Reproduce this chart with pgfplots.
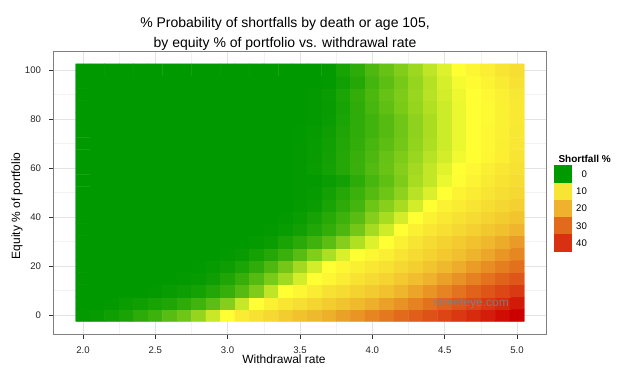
\documentclass[border=0pt]{standalone}
\usepackage{pgfplots}
\pgfplotsset{compat=1.18}
\usepackage{fontspec}
\setmainfont{Liberation Sans}
\definecolor{gmaj}{HTML}{E3E3E3}
\definecolor{gmin}{HTML}{F2F2F2}
\definecolor{bordercol}{HTML}{7F7F7F}
\definecolor{kA}{HTML}{009900}
\definecolor{kB}{HTML}{F8E533}
\definecolor{kC}{HTML}{EEB22C}
\definecolor{kD}{HTML}{E26A1C}
\definecolor{kE}{HTML}{D83010}
\begin{document}
\begin{tikzpicture}[x=1pt,y=1pt]
\path[use as bounding box] (0,0) rectangle (630,378);
\begin{axis}[
  at={(53.3pt,43.7pt)}, anchor=south west,
  width=493.4pt, height=283.3pt, scale only axis,
  xmin=1.795, xmax=5.205, ymin=-7.75, ymax=107.75,
  enlargelimits=false,
  xtick={2,2.5,3,3.5,4,4.5,5},
  minor xtick={2.25,2.75,3.25,3.75,4.25,4.75},
  ytick={0,20,40,60,80,100},
  minor ytick={10,30,50,70,90},
  grid=both,
  major grid style={color=gmaj, line width=0.7pt},
  minor grid style={color=gmin, line width=0.6pt},
  tick align=outside,
  major tick length=4.3pt, minor tick length=0pt,
  major tick style={color=black!80, line width=0.6pt},
  axis line style={color=bordercol, line width=0.8pt},
  xtick pos=bottom, ytick pos=left,
  /pgf/number format/assume math mode=true,
  x tick label style={/pgf/number format/.cd, fixed, fixed zerofill, precision=1, /tikz/.cd,
     font=\fontsize{9.6}{11}\selectfont, text=black!85, yshift=-4.5pt},
  y tick label style={font=\fontsize{9.6}{11}\selectfont, text=black!85, xshift=-4.5pt},
  scaled x ticks=false,
  colormap={ssf}{rgb255(0pt)=(0,153,0); rgb255(15pt)=(255,255,51); rgb255(20pt)=(248,229,51); rgb255(40pt)=(238,178,44); rgb255(60pt)=(226,106,28); rgb255(80pt)=(216,48,16); rgb255(95pt)=(204,0,0)},
  point meta min=0, point meta max=47.5,
  legend image code/.code={\fill[#1] (0pt,-8.65pt) rectangle (18pt,8.65pt);},
  legend style={at={(axis description cs:1,1)}, anchor=north west, xshift=7.3pt, yshift=-114pt,
     draw=none, fill=none, inner sep=0pt, row sep=0pt, column sep=4pt,
     font=\fontsize{9.6}{11}\selectfont, nodes={inner sep=0pt, text depth=0pt}},
  legend cell align=right,
]
\addplot[matrix plot*, mesh/cols=31, point meta=explicit, forget plot]
table[row sep=\\, meta=z] {
x y z\\
2.0 0 0.05\\ 2.1 0 0.15\\ 2.2 0 0.45\\ 2.3 0 0.75\\ 2.4 0 1.3\\ 2.5 0 1.8\\ 2.6 0 2.6\\ 2.7 0 3.3\\ 2.8 0 4.4\\ 2.9 0 5.9\\ 3.0 0 7.5\\ 3.1 0 9.3\\ 3.2 0 10.8\\ 3.3 0 12.6\\ 3.4 0 14.8\\ 3.5 0 16.8\\ 3.6 0 18.6\\ 3.7 0 20.4\\ 3.8 0 22.3\\ 3.9 0 24.2\\ 4.0 0 26.2\\ 4.1 0 28.0\\ 4.2 0 30.0\\ 4.3 0 32.0\\ 4.4 0 34.2\\ 4.5 0 36.4\\ 4.6 0 38.6\\ 4.7 0 40.8\\ 4.8 0 43.2\\ 4.9 0 45.4\\ 5.0 0 47.5\\
2.0 5 0\\ 2.1 5 0.03\\ 2.2 5 0.1\\ 2.3 5 0.3\\ 2.4 5 0.45\\ 2.5 5 0.7\\ 2.6 5 0.9\\ 2.7 5 1.35\\ 2.8 5 1.9\\ 2.9 5 2.7\\ 3.0 5 3.9\\ 3.1 5 5.8\\ 3.2 5 7.5\\ 3.3 5 8.8\\ 3.4 5 9.9\\ 3.5 5 11.3\\ 3.6 5 13.0\\ 3.7 5 14.8\\ 3.8 5 16.6\\ 3.9 5 18.4\\ 4.0 5 20.3\\ 4.1 5 22.3\\ 4.2 5 24.4\\ 4.3 5 26.6\\ 4.4 5 28.9\\ 4.5 5 31.2\\ 4.6 5 33.6\\ 4.7 5 36.0\\ 4.8 5 38.5\\ 4.9 5 41.0\\ 5.0 5 43.5\\
2.0 10 0\\ 2.1 10 0\\ 2.2 10 0\\ 2.3 10 0\\ 2.4 10 0.03\\ 2.5 10 0.1\\ 2.6 10 0.2\\ 2.7 10 0.35\\ 2.8 10 0.6\\ 2.9 10 1.0\\ 3.0 10 1.6\\ 3.1 10 2.5\\ 3.2 10 3.7\\ 3.3 10 5.6\\ 3.4 10 7.5\\ 3.5 10 8.4\\ 3.6 10 9.4\\ 3.7 10 10.6\\ 3.8 10 12.0\\ 3.9 10 13.5\\ 4.0 10 15.2\\ 4.1 10 16.9\\ 4.2 10 19.3\\ 4.3 10 21.8\\ 4.4 10 24.2\\ 4.5 10 26.5\\ 4.6 10 28.8\\ 4.7 10 31.2\\ 4.8 10 33.6\\ 4.9 10 36.0\\ 5.0 10 38.3\\
2.0 15 0\\ 2.1 15 0\\ 2.2 15 0\\ 2.3 15 0\\ 2.4 15 0\\ 2.5 15 0\\ 2.6 15 0\\ 2.7 15 0.05\\ 2.8 15 0.15\\ 2.9 15 0.4\\ 3.0 15 0.9\\ 3.1 15 1.6\\ 3.2 15 2.5\\ 3.3 15 3.6\\ 3.4 15 4.8\\ 3.5 15 6.2\\ 3.6 15 7.5\\ 3.7 15 8.3\\ 3.8 15 9.2\\ 3.9 15 10.4\\ 4.0 15 11.8\\ 4.1 15 13.3\\ 4.2 15 15.4\\ 4.3 15 17.6\\ 4.4 15 20.0\\ 4.5 15 22.3\\ 4.6 15 24.6\\ 4.7 15 26.8\\ 4.8 15 29.0\\ 4.9 15 31.3\\ 5.0 15 33.5\\
2.0 20 0\\ 2.1 20 0\\ 2.2 20 0\\ 2.3 20 0\\ 2.4 20 0\\ 2.5 20 0\\ 2.6 20 0\\ 2.7 20 0\\ 2.8 20 0.04\\ 2.9 20 0.15\\ 3.0 20 0.4\\ 3.1 20 0.8\\ 3.2 20 1.4\\ 3.3 20 2.3\\ 3.4 20 3.4\\ 3.5 20 4.8\\ 3.6 20 6.2\\ 3.7 20 7.5\\ 3.8 20 8.3\\ 3.9 20 9.0\\ 4.0 20 9.8\\ 4.1 20 10.8\\ 4.2 20 12.5\\ 4.3 20 14.4\\ 4.4 20 16.4\\ 4.5 20 18.6\\ 4.6 20 20.9\\ 4.7 20 23.1\\ 4.8 20 25.2\\ 4.9 20 27.2\\ 5.0 20 29.2\\
2.0 25 0\\ 2.1 25 0\\ 2.2 25 0\\ 2.3 25 0\\ 2.4 25 0\\ 2.5 25 0\\ 2.6 25 0\\ 2.7 25 0\\ 2.8 25 0\\ 2.9 25 0.02\\ 3.0 25 0.08\\ 3.1 25 0.25\\ 3.2 25 0.6\\ 3.3 25 1.1\\ 3.4 25 1.7\\ 3.5 25 2.6\\ 3.6 25 3.8\\ 3.7 25 5.1\\ 3.8 25 6.4\\ 3.9 25 7.5\\ 4.0 25 8.3\\ 4.1 25 9.0\\ 4.2 25 10.1\\ 4.3 25 11.7\\ 4.4 25 13.5\\ 4.5 25 15.4\\ 4.6 25 17.3\\ 4.7 25 19.5\\ 4.8 25 21.7\\ 4.9 25 23.9\\ 5.0 25 26.0\\
2.0 30 0\\ 2.1 30 0\\ 2.2 30 0\\ 2.3 30 0\\ 2.4 30 0\\ 2.5 30 0\\ 2.6 30 0\\ 2.7 30 0\\ 2.8 30 0\\ 2.9 30 0\\ 3.0 30 0\\ 3.1 30 0.03\\ 3.2 30 0.12\\ 3.3 30 0.3\\ 3.4 30 0.75\\ 3.5 30 1.25\\ 3.6 30 1.85\\ 3.7 30 2.7\\ 3.8 30 3.9\\ 3.9 30 5.2\\ 4.0 30 6.5\\ 4.1 30 7.5\\ 4.2 30 8.8\\ 4.3 30 10.2\\ 4.4 30 11.9\\ 4.5 30 13.5\\ 4.6 30 15.2\\ 4.7 30 17.0\\ 4.8 30 18.9\\ 4.9 30 21.0\\ 5.0 30 23.3\\
2.0 35 0\\ 2.1 35 0\\ 2.2 35 0\\ 2.3 35 0\\ 2.4 35 0\\ 2.5 35 0\\ 2.6 35 0\\ 2.7 35 0\\ 2.8 35 0\\ 2.9 35 0\\ 3.0 35 0\\ 3.1 35 0\\ 3.2 35 0.02\\ 3.3 35 0.05\\ 3.4 35 0.2\\ 3.5 35 0.5\\ 3.6 35 0.95\\ 3.7 35 1.5\\ 3.8 35 2.2\\ 3.9 35 3.4\\ 4.0 35 4.85\\ 4.1 35 6.1\\ 4.2 35 7.5\\ 4.3 35 8.8\\ 4.4 35 9.8\\ 4.5 35 11.0\\ 4.6 35 12.5\\ 4.7 35 14.1\\ 4.8 35 15.6\\ 4.9 35 17.3\\ 5.0 35 19.2\\
2.0 40 0\\ 2.1 40 0\\ 2.2 40 0\\ 2.3 40 0\\ 2.4 40 0\\ 2.5 40 0\\ 2.6 40 0\\ 2.7 40 0\\ 2.8 40 0\\ 2.9 40 0\\ 3.0 40 0\\ 3.1 40 0\\ 3.2 40 0\\ 3.3 40 0.03\\ 3.4 40 0.1\\ 3.5 40 0.3\\ 3.6 40 0.65\\ 3.7 40 1.2\\ 3.8 40 1.8\\ 3.9 40 2.6\\ 4.0 40 3.9\\ 4.1 40 4.9\\ 4.2 40 6.2\\ 4.3 40 7.5\\ 4.4 40 8.75\\ 4.5 40 9.6\\ 4.6 40 10.7\\ 4.7 40 12.0\\ 4.8 40 13.3\\ 4.9 40 14.7\\ 5.0 40 16.3\\
2.0 45 0\\ 2.1 45 0\\ 2.2 45 0\\ 2.3 45 0\\ 2.4 45 0\\ 2.5 45 0\\ 2.6 45 0\\ 2.7 45 0\\ 2.8 45 0\\ 2.9 45 0\\ 3.0 45 0\\ 3.1 45 0\\ 3.2 45 0\\ 3.3 45 0\\ 3.4 45 0.03\\ 3.5 45 0.12\\ 3.6 45 0.3\\ 3.7 45 0.75\\ 3.8 45 1.35\\ 3.9 45 2.0\\ 4.0 45 3.2\\ 4.1 45 4.0\\ 4.2 45 4.9\\ 4.3 45 6.2\\ 4.4 45 7.5\\ 4.5 45 8.75\\ 4.6 45 9.4\\ 4.7 45 10.2\\ 4.8 45 11.5\\ 4.9 45 12.7\\ 5.0 45 14.1\\
2.0 50 0\\ 2.1 50 0\\ 2.2 50 0\\ 2.3 50 0\\ 2.4 50 0\\ 2.5 50 0\\ 2.6 50 0\\ 2.7 50 0\\ 2.8 50 0\\ 2.9 50 0\\ 3.0 50 0\\ 3.1 50 0\\ 3.2 50 0\\ 3.3 50 0\\ 3.4 50 0.03\\ 3.5 50 0.1\\ 3.6 50 0.17\\ 3.7 50 0.55\\ 3.8 50 1.1\\ 3.9 50 1.75\\ 4.0 50 2.5\\ 4.1 50 3.2\\ 4.2 50 4.2\\ 4.3 50 5.4\\ 4.4 50 6.4\\ 4.5 50 7.5\\ 4.6 50 8.65\\ 4.7 50 9.3\\ 4.8 50 10.2\\ 4.9 50 11.3\\ 5.0 50 12.5\\
2.0 55 0\\ 2.1 55 0\\ 2.2 55 0\\ 2.3 55 0\\ 2.4 55 0\\ 2.5 55 0\\ 2.6 55 0\\ 2.7 55 0\\ 2.8 55 0\\ 2.9 55 0\\ 3.0 55 0\\ 3.1 55 0\\ 3.2 55 0\\ 3.3 55 0\\ 3.4 55 0.02\\ 3.5 55 0.05\\ 3.6 55 0.1\\ 3.7 55 0.3\\ 3.8 55 0.55\\ 3.9 55 1.3\\ 4.0 55 2.1\\ 4.1 55 2.8\\ 4.2 55 3.7\\ 4.3 55 4.9\\ 4.4 55 5.7\\ 4.5 55 6.9\\ 4.6 55 7.8\\ 4.7 55 8.6\\ 4.8 55 9.5\\ 4.9 55 10.4\\ 5.0 55 11.6\\
2.0 60 0\\ 2.1 60 0\\ 2.2 60 0\\ 2.3 60 0\\ 2.4 60 0\\ 2.5 60 0\\ 2.6 60 0\\ 2.7 60 0\\ 2.8 60 0\\ 2.9 60 0\\ 3.0 60 0\\ 3.1 60 0\\ 3.2 60 0\\ 3.3 60 0\\ 3.4 60 0.03\\ 3.5 60 0.1\\ 3.6 60 0.3\\ 3.7 60 0.6\\ 3.8 60 1.1\\ 3.9 60 1.7\\ 4.0 60 2.4\\ 4.1 60 3.1\\ 4.2 60 3.9\\ 4.3 60 4.8\\ 4.4 60 5.7\\ 4.5 60 6.6\\ 4.6 60 7.5\\ 4.7 60 8.2\\ 4.8 60 9.0\\ 4.9 60 9.8\\ 5.0 60 10.8\\
2.0 65 0\\ 2.1 65 0\\ 2.2 65 0\\ 2.3 65 0\\ 2.4 65 0\\ 2.5 65 0\\ 2.6 65 0\\ 2.7 65 0\\ 2.8 65 0\\ 2.9 65 0\\ 3.0 65 0\\ 3.1 65 0\\ 3.2 65 0\\ 3.3 65 0\\ 3.4 65 0.02\\ 3.5 65 0.08\\ 3.6 65 0.25\\ 3.7 65 0.55\\ 3.8 65 1.05\\ 3.9 65 1.65\\ 4.0 65 2.3\\ 4.1 65 3.0\\ 4.2 65 3.7\\ 4.3 65 4.5\\ 4.4 65 5.4\\ 4.5 65 6.2\\ 4.6 65 7.1\\ 4.7 65 7.6\\ 4.8 65 8.3\\ 4.9 65 9.1\\ 5.0 65 10.0\\
2.0 70 0\\ 2.1 70 0\\ 2.2 70 0\\ 2.3 70 0\\ 2.4 70 0\\ 2.5 70 0\\ 2.6 70 0\\ 2.7 70 0\\ 2.8 70 0\\ 2.9 70 0\\ 3.0 70 0\\ 3.1 70 0\\ 3.2 70 0\\ 3.3 70 0\\ 3.4 70 0\\ 3.5 70 0.05\\ 3.6 70 0.2\\ 3.7 70 0.5\\ 3.8 70 1.0\\ 3.9 70 1.5\\ 4.0 70 2.1\\ 4.1 70 2.7\\ 4.2 70 3.4\\ 4.3 70 4.3\\ 4.4 70 5.1\\ 4.5 70 6.0\\ 4.6 70 6.9\\ 4.7 70 7.5\\ 4.8 70 8.2\\ 4.9 70 9.0\\ 5.0 70 9.8\\
2.0 75 0\\ 2.1 75 0\\ 2.2 75 0\\ 2.3 75 0\\ 2.4 75 0\\ 2.5 75 0\\ 2.6 75 0\\ 2.7 75 0\\ 2.8 75 0\\ 2.9 75 0\\ 3.0 75 0\\ 3.1 75 0\\ 3.2 75 0\\ 3.3 75 0\\ 3.4 75 0\\ 3.5 75 0.04\\ 3.6 75 0.15\\ 3.7 75 0.4\\ 3.8 75 0.9\\ 3.9 75 1.4\\ 4.0 75 1.9\\ 4.1 75 2.5\\ 4.2 75 3.3\\ 4.3 75 4.2\\ 4.4 75 5.0\\ 4.5 75 6.0\\ 4.6 75 6.9\\ 4.7 75 7.5\\ 4.8 75 8.2\\ 4.9 75 8.9\\ 5.0 75 9.7\\
2.0 80 0\\ 2.1 80 0\\ 2.2 80 0\\ 2.3 80 0\\ 2.4 80 0\\ 2.5 80 0\\ 2.6 80 0\\ 2.7 80 0\\ 2.8 80 0\\ 2.9 80 0\\ 3.0 80 0\\ 3.1 80 0\\ 3.2 80 0\\ 3.3 80 0\\ 3.4 80 0\\ 3.5 80 0.02\\ 3.6 80 0.1\\ 3.7 80 0.3\\ 3.8 80 0.8\\ 3.9 80 1.4\\ 4.0 80 1.9\\ 4.1 80 2.5\\ 4.2 80 3.3\\ 4.3 80 4.2\\ 4.4 80 5.0\\ 4.5 80 6.0\\ 4.6 80 6.9\\ 4.7 80 7.5\\ 4.8 80 8.1\\ 4.9 80 8.8\\ 5.0 80 9.6\\
2.0 85 0\\ 2.1 85 0\\ 2.2 85 0\\ 2.3 85 0\\ 2.4 85 0\\ 2.5 85 0\\ 2.6 85 0\\ 2.7 85 0\\ 2.8 85 0\\ 2.9 85 0\\ 3.0 85 0\\ 3.1 85 0\\ 3.2 85 0\\ 3.3 85 0\\ 3.4 85 0\\ 3.5 85 0\\ 3.6 85 0.05\\ 3.7 85 0.25\\ 3.8 85 0.7\\ 3.9 85 1.4\\ 4.0 85 2.1\\ 4.1 85 2.8\\ 4.2 85 3.6\\ 4.3 85 4.4\\ 4.4 85 5.2\\ 4.5 85 6.0\\ 4.6 85 6.9\\ 4.7 85 7.5\\ 4.8 85 8.1\\ 4.9 85 8.8\\ 5.0 85 9.6\\
2.0 90 0\\ 2.1 90 0\\ 2.2 90 0\\ 2.3 90 0\\ 2.4 90 0\\ 2.5 90 0\\ 2.6 90 0\\ 2.7 90 0\\ 2.8 90 0\\ 2.9 90 0\\ 3.0 90 0\\ 3.1 90 0\\ 3.2 90 0\\ 3.3 90 0\\ 3.4 90 0\\ 3.5 90 0\\ 3.6 90 0.05\\ 3.7 90 0.3\\ 3.8 90 0.8\\ 3.9 90 1.5\\ 4.0 90 2.2\\ 4.1 90 3.0\\ 4.2 90 3.7\\ 4.3 90 4.5\\ 4.4 90 5.4\\ 4.5 90 6.2\\ 4.6 90 7.0\\ 4.7 90 7.5\\ 4.8 90 8.2\\ 4.9 90 8.9\\ 5.0 90 9.7\\
2.0 95 0\\ 2.1 95 0\\ 2.2 95 0\\ 2.3 95 0\\ 2.4 95 0\\ 2.5 95 0\\ 2.6 95 0\\ 2.7 95 0\\ 2.8 95 0\\ 2.9 95 0\\ 3.0 95 0\\ 3.1 95 0\\ 3.2 95 0\\ 3.3 95 0\\ 3.4 95 0\\ 3.5 95 0\\ 3.6 95 0\\ 3.7 95 0.05\\ 3.8 95 0.5\\ 3.9 95 1.1\\ 4.0 95 2.0\\ 4.1 95 2.7\\ 4.2 95 3.5\\ 4.3 95 4.4\\ 4.4 95 5.3\\ 4.5 95 6.3\\ 4.6 95 7.2\\ 4.7 95 7.9\\ 4.8 95 8.7\\ 4.9 95 9.5\\ 5.0 95 10.5\\
2.0 100 0\\ 2.1 100 0\\ 2.2 100 0\\ 2.3 100 0\\ 2.4 100 0\\ 2.5 100 0\\ 2.6 100 0\\ 2.7 100 0\\ 2.8 100 0\\ 2.9 100 0\\ 3.0 100 0\\ 3.1 100 0\\ 3.2 100 0\\ 3.3 100 0\\ 3.4 100 0\\ 3.5 100 0\\ 3.6 100 0\\ 3.7 100 0.1\\ 3.8 100 0.7\\ 3.9 100 1.3\\ 4.0 100 2.3\\ 4.1 100 3.0\\ 4.2 100 3.8\\ 4.3 100 4.6\\ 4.4 100 5.6\\ 4.5 100 6.5\\ 4.6 100 7.5\\ 4.7 100 8.4\\ 4.8 100 9.1\\ 4.9 100 10.1\\ 5.0 100 11.3\\
};
\addlegendimage{fill=kA, draw=none}\addlegendentry{0}
\addlegendimage{fill=kB, draw=none}\addlegendentry{10}
\addlegendimage{fill=kC, draw=none}\addlegendentry{20}
\addlegendimage{fill=kD, draw=none}\addlegendentry{30}
\addlegendimage{fill=kE, draw=none}\addlegendentry{40}
\node[anchor=base, text=black!50, opacity=0.9, font=\fontsize{12}{14}\selectfont] at (axis cs:4.683,3.6) {streeteye.com};
\end{axis}
\node[anchor=base, font=\fontsize{14}{16}\selectfont] at (285,350.3) {\% Probability of shortfalls by death or age 105,};
\node[anchor=base, font=\fontsize{14}{16}\selectfont] at (285,330.7) {by equity \% of portfolio vs. withdrawal rate};
\node[anchor=base, font=\fontsize{12}{14}\selectfont] at (284,14.7) {Withdrawal rate};
\node[anchor=base, rotate=90, font=\fontsize{12}{14}\selectfont] at (20.2,172.2) {Equity \% of portfolio};
\node[anchor=base west, font=\bfseries\fontsize{10}{12}\selectfont] at (555,215.5) {Shortfall \%};
\end{tikzpicture}
\end{document}
